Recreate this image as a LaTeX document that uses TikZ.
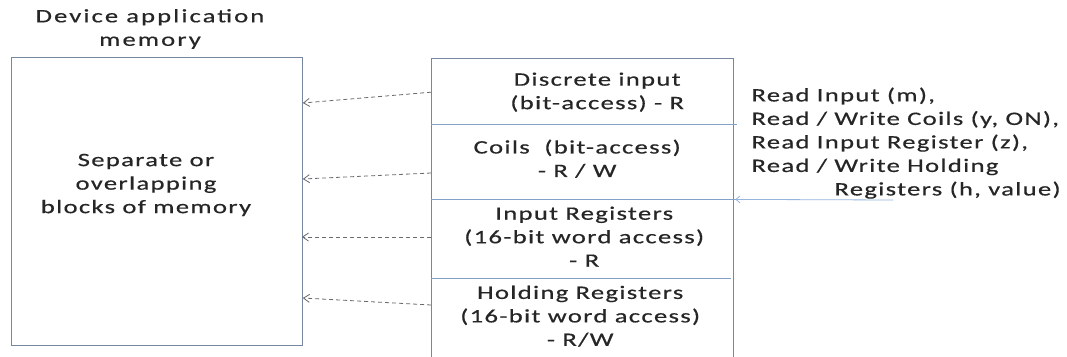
\documentclass[tikz,border=0pt]{standalone}
\usepackage{fontspec}
\setmainfont[FakeStretch=1.4,LetterSpace=7,FakeBold=0.5]{Carlito}
\usetikzlibrary{arrows.meta,positioning,calc}
\definecolor{frame}{RGB}{120,135,160}
\definecolor{divider}{RGB}{130,160,200}
\definecolor{feed}{RGB}{150,180,220}
\definecolor{dash}{RGB}{105,105,110}
\tikzset{
  memtext/.style={font=\fontsize{19}{23.5}\selectfont, align=center, text=black!85},
  dasharrow/.style={draw=dash, dashed, dash pattern=on 4pt off 3pt, line width=0.8pt,
    -{Straight Barb[length=6pt,width=8pt]}},
  cell/.style={minimum width=302pt, inner sep=0pt, anchor=north west},
}
\begin{document}
\begin{tikzpicture}[x=1pt,y=-1pt]
\clip (0,0) rectangle (1067,356);
\fill[white] (0,0) rectangle (1067,356);

% application memory block
\node[memtext, font=\fontsize{19}{23.5}\selectfont\addfontfeature{LetterSpace=11}] (title) at (150,29)
  {Device application\\memory};
\node[draw=frame, line width=0.8pt, minimum width=291pt, minimum height=288pt, inner sep=0pt,
      anchor=north west] (mem) at (11,57) {};
\node[memtext] (blocks) at (146,185) {Separate or\\overlapping\\blocks of memory};

% data table stack (shifts below are in canvas units: positive moves up)
\node[cell, minimum height=66pt] (di) at (431,58) {};
\node[cell, minimum height=75pt] (coils) at (431,124) {};
\node[cell, minimum height=79pt] (ir) at (431,199) {};
\node[cell, minimum height=80pt] (hr) at (431,278) {};
\draw[frame, line width=0.8pt] (hr.south west) -- (di.north west) -- (di.north east) -- (hr.south east);
\draw[divider, line width=0.8pt] (di.south west) -- ([xshift=4pt]di.south east);
\draw[divider, line width=0.8pt] (coils.south west) -- ([xshift=4pt]coils.south east);
\draw[divider, line width=0.8pt] (ir.south west) -- ([xshift=-2pt]ir.south east);

\node[memtext] (ditxt) at ([xshift=15pt,yshift=-1pt]di.center) {Discrete input\\(bit-access) - R};
\node[memtext] (coilstxt) at ([xshift=-5pt,yshift=3pt]coils.center) {Coils~~(bit-access)\\- R / W};
\node[memtext] (irtxt) at ([xshift=2pt,yshift=2pt]ir.center) {Input Registers\\(16-bit word access)\\- R};
\node[memtext] (hrtxt) at ([xshift=-2pt,yshift=2pt]hr.center) {Holding Registers\\(16-bit word access)\\- R/W};

% mapping into application memory
\draw[dasharrow] ([yshift=-1pt]di.west) -- (mem.east |- 0,103);
\draw[dasharrow] (coils.west |- 0,173) -- (mem.east |- 0,179);
\draw[dasharrow] (ir.west |- 0,237) -- ([xshift=-1pt]mem.east |- 0,237);
\draw[dasharrow] (hr.west |- 0,305) -- (mem.east |- 0,298);

% function codes issued by the master
\node[memtext, align=left, anchor=north west] (req) at (748,84)
  {Read Input (m),\\Read / Write Coils (y, ON),\\Read Input Register (z),\\Read / Write Holding\\\hspace*{83pt}Registers (h, value)};
\coordinate (src) at (893,200);
\draw[feed, line width=0.8pt, -{Straight Barb[length=4pt,width=7pt]}] (src) -- ([xshift=2pt]coils.south east);
\end{tikzpicture}
\end{document}
